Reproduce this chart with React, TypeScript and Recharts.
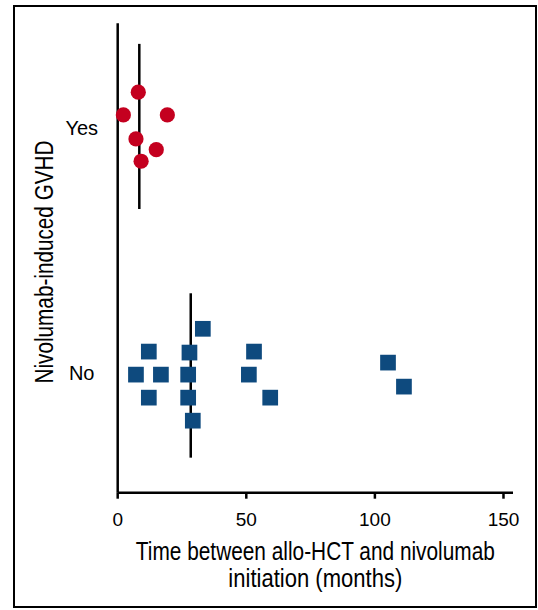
import React from 'react';
import { ScatterChart, Scatter, XAxis, YAxis, ReferenceLine, Label } from 'recharts';

// months between allo-HCT and nivolumab start, with the jittered row each point sits on
// (row 1 = "No", row 2 = "Yes")
const yesMonths = [8.0, 2.2, 19.3, 7.1, 15.0, 9.1];
const yesRow = [2.146, 2.053, 2.053, 1.955, 1.911, 1.864];

const noMonths = [33.1, 12.1, 27.9, 53.0, 105.1, 7.1, 16.8, 27.4, 51.0, 111.3, 12.1, 27.4, 59.3, 29.2];
const noRow = [1.18, 1.087, 1.083, 1.087, 1.042, 0.993, 0.993, 0.993, 0.993, 0.944, 0.899, 0.899, 0.899, 0.805];

// median bars: x = median months, spanning rows lo..hi
const yesMedian = { months: 8.4, lo: 1.669, hi: 2.343 };
const noMedian = { months: 28.4, lo: 0.654, hi: 1.325 };

const groupTicks = [1, 2];
const groupNames = ['No', 'Yes'];
const monthTicks = [0, 50, 100, 150];

const SANS = "'Liberation Sans', Arial, Helvetica, sans-serif";
const SQUEEZE = 0.8; // titles are a condensed face in the original

const yesData = yesMonths.map((m, i) => ({ months: m, row: yesRow[i] }));
const noData = noMonths.map((m, i) => ({ months: m, row: noRow[i] }));

const RedDot = (p: any) => <circle cx={p.cx} cy={p.cy} r={7.6} fill="#c4001f" />;
const BlueSquare = (p: any) => (
  <rect x={p.cx - 7.85} y={p.cy - 7.85} width={15.7} height={15.7} fill="#0e4a7e" />
);

const GroupTick = (p: any) => (
  <text x={p.x} y={p.y} dy="0.355em" textAnchor="middle" fontSize={20} fontFamily={SANS} fill="#000">
    {groupNames[groupTicks.indexOf(p.payload.value)]}
  </text>
);

const XTitle = (p: any) => {
  const vb = p.viewBox;
  const cx = vb.x + vb.width / 2;
  return (
    <g fontSize={26} fontFamily={SANS} fill="#000">
      <text
        transform={`translate(${cx}, ${vb.y + 67.3}) scale(${SQUEEZE}, 1)`}
        textAnchor="middle"
        textLength={359 / SQUEEZE}
        lengthAdjust="spacingAndGlyphs"
      >
        Time between allo-HCT and nivolumab
      </text>
      <text
        transform={`translate(${cx}, ${vb.y + 94.3}) scale(${SQUEEZE}, 1)`}
        textAnchor="middle"
        textLength={174 / SQUEEZE}
        lengthAdjust="spacingAndGlyphs"
      >
        initiation (months)
      </text>
    </g>
  );
};

const YTitle = (p: any) => {
  const vb = p.viewBox;
  const cy = vb.y + vb.height / 2 + 4;
  return (
    <text
      transform={`translate(53, ${cy}) rotate(-90) scale(${SQUEEZE}, 1)`}
      textAnchor="middle"
      textLength={243 / SQUEEZE}
      lengthAdjust="spacingAndGlyphs"
      fontSize={26}
      fontFamily={SANS}
      fill="#000"
    >
      Nivolumab-induced GVHD
    </text>
  );
};

export default function App() {
  return (
    <div style={{ position: 'absolute', left: 0, top: 0, width: 538, height: 610, background: '#fff' }}>
      <div
        style={{
          position: 'absolute',
          left: 13,
          top: 5,
          width: 524,
          height: 603,
          border: '2.5px solid #000',
          boxSizing: 'border-box',
        }}
      />
      <div style={{ position: 'absolute', left: 0, top: 0 }}>
        <ScatterChart width={538} height={610} margin={{ top: 23.3, right: 25, bottom: 87.3, left: 57.7 }}>
          <XAxis
            type="number"
            dataKey="months"
            domain={[0, 153.7]}
            ticks={monthTicks}
            height={30}
            stroke="#000"
            axisLine={{ stroke: '#000', strokeWidth: 2.5 }}
            tickLine={{ stroke: '#000', strokeWidth: 2.5 }}
            tickSize={6}
            tickMargin={14}
            tick={{ fill: '#000', fontSize: 19, fontFamily: SANS }}
          >
            <Label content={XTitle} />
          </XAxis>
          <YAxis
            type="number"
            dataKey="row"
            domain={[0.511, 2.427]}
            ticks={groupTicks}
            width={60}
            stroke="#000"
            axisLine={{ stroke: '#000', strokeWidth: 2.5 }}
            tickLine={false}
            tickSize={0}
            tickMargin={36}
            tick={GroupTick}
          >
            <Label content={YTitle} />
          </YAxis>
          <Scatter data={yesData} shape={RedDot} isAnimationActive={false} />
          <Scatter data={noData} shape={BlueSquare} isAnimationActive={false} />
          <ReferenceLine
            segment={[
              { x: yesMedian.months, y: yesMedian.lo },
              { x: yesMedian.months, y: yesMedian.hi },
            ]}
            stroke="#000"
            strokeWidth={2.5}
          />
          <ReferenceLine
            segment={[
              { x: noMedian.months, y: noMedian.lo },
              { x: noMedian.months, y: noMedian.hi },
            ]}
            stroke="#000"
            strokeWidth={2.5}
          />
        </ScatterChart>
      </div>
    </div>
  );
}
